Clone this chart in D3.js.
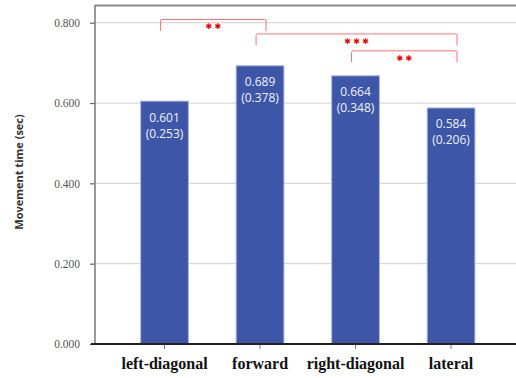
<!DOCTYPE html>
<html><head><meta charset="utf-8">
<script src="https://cdn.jsdelivr.net/npm/d3@7"></script>
<style>html,body{margin:0;padding:0;background:#fff;}svg{display:block;}</style>
</head><body>
<svg id="chart" width="516" height="378"></svg>
<script>
const categories = ["left-diagonal", "forward", "right-diagonal", "lateral"];
const means = [0.601, 0.689, 0.664, 0.584];
const sds = [0.253, 0.378, 0.348, 0.206];
const yTicks = [0, 0.2, 0.4, 0.6, 0.8];
const yTitle = "Movement time (sec)";
// significance brackets
const sigFrom = ["left-diagonal", "forward", "right-diagonal"];
const sigTo = ["forward", "lateral", "lateral"];
const sigStars = [2, 3, 2];
const sigLevel = [0.808, 0.772, 0.730];

const svg = d3.select("#chart");
const W = 516, H = 378;
const x = d3.scaleBand().domain(categories).range([116.8, 498.8]).paddingInner(0.5).paddingOuter(0.25);
const y = d3.scaleLinear().domain([0, 0.8]).range([344, 22.7]);
const axisLeftX = 95;

// gridlines
svg.append("g").selectAll("line").data(yTicks.filter(d => d > 0)).join("line")
  .attr("x1", axisLeftX).attr("x2", W).attr("y1", d => y(d)).attr("y2", d => y(d))
  .attr("stroke", "#d9d9d9").attr("stroke-width", 1.2);

// top border
svg.append("line").attr("x1", axisLeftX).attr("x2", W).attr("y1", 5.5).attr("y2", 5.5)
  .attr("stroke", "#8a8a8a").attr("stroke-width", 2);

// y axis
const yAxis = d3.axisLeft(y).tickValues(yTicks).tickFormat(d3.format(".3f")).tickSize(5).tickPadding(10);
const gy = svg.append("g").attr("transform", `translate(${axisLeftX},0)`).call(yAxis)
  .attr("font-family", null).attr("font-size", null);
gy.select(".domain").remove();
gy.selectAll(".tick line").attr("stroke", "#666").attr("stroke-width", 1.2);
gy.selectAll(".tick text")
  .style("font-family", '"Liberation Serif","Times New Roman",serif')
  .style("font-size", "11.5px").attr("fill", "#555");
svg.append("line").attr("x1", axisLeftX).attr("x2", axisLeftX).attr("y1", 5).attr("y2", 344)
  .attr("stroke", "#777").attr("stroke-width", 1.5);

// bars
svg.append("g").selectAll("rect").data(categories).join("rect")
  .attr("x", d => x(d)).attr("width", x.bandwidth())
  .attr("y", (d, i) => y(means[i]) - 1.5).attr("height", (d, i) => y(0) - y(means[i]) + 1.5)
  .attr("fill", "#3e56a8").attr("stroke", "#a9b6e0").attr("stroke-width", 1);

// bar labels
const lbl = svg.append("g").style("font-family", '"Open Sans","Noto Sans",sans-serif')
  .style("font-size", "12px").attr("fill", "#eef1fa").attr("text-anchor", "middle");
lbl.selectAll("text.m").data(categories).join("text").attr("class", "m")
  .attr("x", d => x(d) + x.bandwidth() / 2).attr("y", (d, i) => y(means[i]) + 19)
  .text((d, i) => d3.format(".3f")(means[i]));
lbl.selectAll("text.s").data(categories).join("text").attr("class", "s")
  .attr("x", d => x(d) + x.bandwidth() / 2).attr("y", (d, i) => y(means[i]) + 35)
  .text((d, i) => "(" + d3.format(".3f")(sds[i]) + ")");

// x axis
const xAxis = d3.axisBottom(x).tickSize(5).tickPadding(9);
const gx = svg.append("g").attr("transform", `translate(0,${y(0)})`).call(xAxis)
  .attr("font-family", null).attr("font-size", null);
gx.select(".domain").remove();
gx.selectAll(".tick line").attr("stroke", "#777").attr("stroke-width", 1);
gx.selectAll(".tick text")
  .style("font-family", '"Liberation Serif","Times New Roman",serif')
  .style("font-weight", "bold").style("font-size", "16px").attr("fill", "#111");
svg.append("line").attr("x1", 91).attr("x2", W).attr("y1", y(0)).attr("y2", y(0))
  .attr("stroke", "#222").attr("stroke-width", 2);

// y title
svg.append("text").attr("transform", "translate(23,172) rotate(-90)")
  .attr("text-anchor", "middle").style("font-family", '"Open Sans","Noto Sans",sans-serif')
  .style("font-weight", "bold").style("font-size", "11px").attr("fill", "#333").text(yTitle);

// significance brackets
sigFrom.forEach((f, i) => {
  const x1 = x(f) + x.bandwidth() / 2 - 4, x2 = x(sigTo[i]) + x.bandwidth() / 2 + 6;
  const yt = y(sigLevel[i]), yb = yt + 11.5;
  svg.append("path").attr("d", `M${x1},${yb} L${x1},${yt + 1.5} Q${x1},${yt} ${x1 + 1.5},${yt} L${x2 - 1.5},${yt} Q${x2},${yt} ${x2},${yt + 1.5} L${x2},${yb}`)
    .attr("fill", "none").attr("stroke", "#ff7070").attr("stroke-width", 1);
  const cx = (x1 + x2) / 2, n = sigStars[i];
  for (let k = 0; k < n; k++) {
    const sx = cx + (k - (n - 1) / 2) * 9;
    svg.append("text").attr("x", sx).attr("y", yt + 10)
      .attr("text-anchor", "middle").style("font-family", '"DejaVu Sans",sans-serif')
      .style("font-weight", "bold").style("font-size", "8px").attr("fill", "#ee0000").text("✱");
  }
});
</script>
</body></html>
